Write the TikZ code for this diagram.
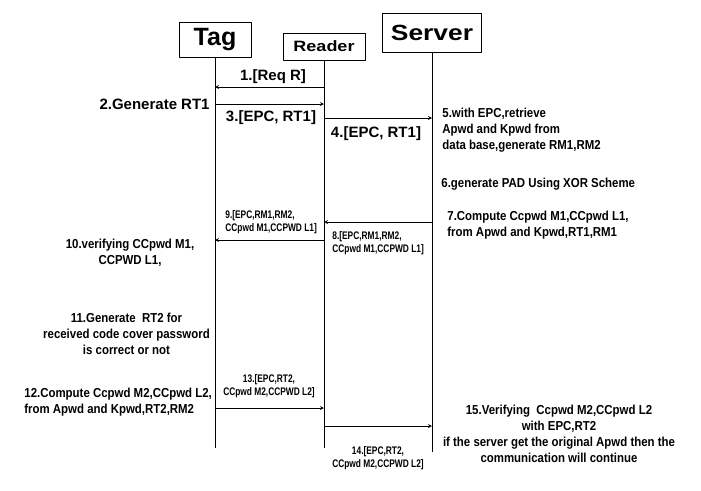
\documentclass[tikz,border=0pt]{standalone}
\usepackage{fontspec}
\setmainfont{Liberation Sans}
\newfontfamily\condsf[FakeStretch=0.88]{Liberation Sans}
\newfontfamily\narrowsf[FakeStretch=0.76]{Liberation Sans}
\newfontfamily\widesf[FakeStretch=1.2]{Liberation Sans}
\begin{document}
\begin{tikzpicture}[x=1pt,y=-1pt,line join=round,>=stealth,line width=0.8pt,
	actor/.style={draw,inner sep=0pt},
	big/.style={font=\bfseries\fontsize{15}{17}\selectfont,inner sep=0pt},
	note/.style={font=\condsf\bfseries\fontsize{13}{16}\selectfont,inner sep=0pt,align=left},
	small/.style={font=\narrowsf\bfseries\fontsize{11}{12.5}\selectfont,inner sep=0pt,align=left}]
	\useasboundingbox (0,0) rectangle (701,490);
	% actors
	\node[actor,minimum width=72pt,minimum height=35pt,font=\bfseries\fontsize{25}{25}\selectfont] (Tag) at (215,39.5) {Tag};
	\node[actor,minimum width=82pt,minimum height=27pt,font=\widesf\bfseries\fontsize{15}{15}\selectfont] (Reader) at (324,46.5) {Reader};
	\node[actor,minimum width=99pt,minimum height=39pt,font=\widesf\bfseries\fontsize{22}{22}\selectfont] (Server) at (432,32.5) {Server};
	\coordinate (T) at (215,448);
	\coordinate (R) at (324,448);
	\coordinate (S) at (432,452);
	\draw (Tag)--(T) (Reader)--(R) (Server)--(S);
	% message ends on the lifelines
	\coordinate (T1) at (215,87);   \coordinate (R1) at (324,87);
	\coordinate (T2) at (215,104);  \coordinate (R2) at (324,104);
	\coordinate (R4) at (324,118);  \coordinate (S4) at (432,118);
	\coordinate (S8) at (432,222);  \coordinate (R8) at (324,222);
	\coordinate (R9) at (324,240);  \coordinate (T9) at (215,240);
	\coordinate (T13) at (215,408); \coordinate (R13) at (324,408);
	\coordinate (R14) at (324,426); \coordinate (S14) at (432,426);
	\draw[->] (R1)--(T1);
	\draw[->] (T2)--(R2);
	\draw[->] (R4)--(S4);
	\draw[->] (S8)--(R8);
	\draw[->] (R9)--(T9);
	\draw[->] (T13)--(R13);
	\draw[->] (R14)--(S14);
	% labels
	\node[big] (m1) at (273,76.5) {1.[Req R]};
	\node[big,anchor=east] (m2) at (210,104.5) {2.Generate RT1};
	\node[big] (m3) at (271,118) {3.[EPC, RT1]};
	\node[big] (m4) at (376,133.5) {4.[EPC, RT1]};
	\node[note,anchor=west] (m5) at (442,130) {5.with EPC,retrieve\\Apwd and Kpwd from\\data base,generate RM1,RM2};
	\node[note,anchor=west] (m6) at (441,184) {6.generate PAD Using XOR Scheme};
	\node[note,anchor=west] (m7) at (447,225) {7.Compute Ccpwd M1,CCpwd L1,\\from Apwd and Kpwd,RT1,RM1};
	\node[small,anchor=west] (m8) at (332,243) {8.[EPC,RM1,RM2,\\CCpwd M1,CCPWD L1]};
	\node[small,anchor=west] (m9) at (225,222) {9.[EPC,RM1,RM2,\\CCpwd M1,CCPWD L1]};
	\node[note,align=center] (m10) at (130,253) {10.verifying CCpwd M1,\\CCPWD L1,};
	\node[note,align=center] (m11) at (126.5,334) {11.Generate \ RT2 for\\received code cover password\\is correct or not};
	\node[note,anchor=west] (m12) at (24,402) {12.Compute Ccpwd M2,CCpwd L2,\\from Apwd and Kpwd,RT2,RM2};
	\node[small,align=center] (m13) at (269,386) {13.[EPC,RT2,\\CCpwd M2,CCPWD L2]};
	\node[small,align=center] (m14) at (378,458) {14.[EPC,RT2,\\CCpwd M2,CCPWD L2]};
	\node[note,align=center] (m15) at (559,433.5) {15.Verifying \ Ccpwd M2,CCpwd L2\\with EPC,RT2\\if the server get the original Apwd then the\\communication will continue};
\end{tikzpicture}
\end{document}
